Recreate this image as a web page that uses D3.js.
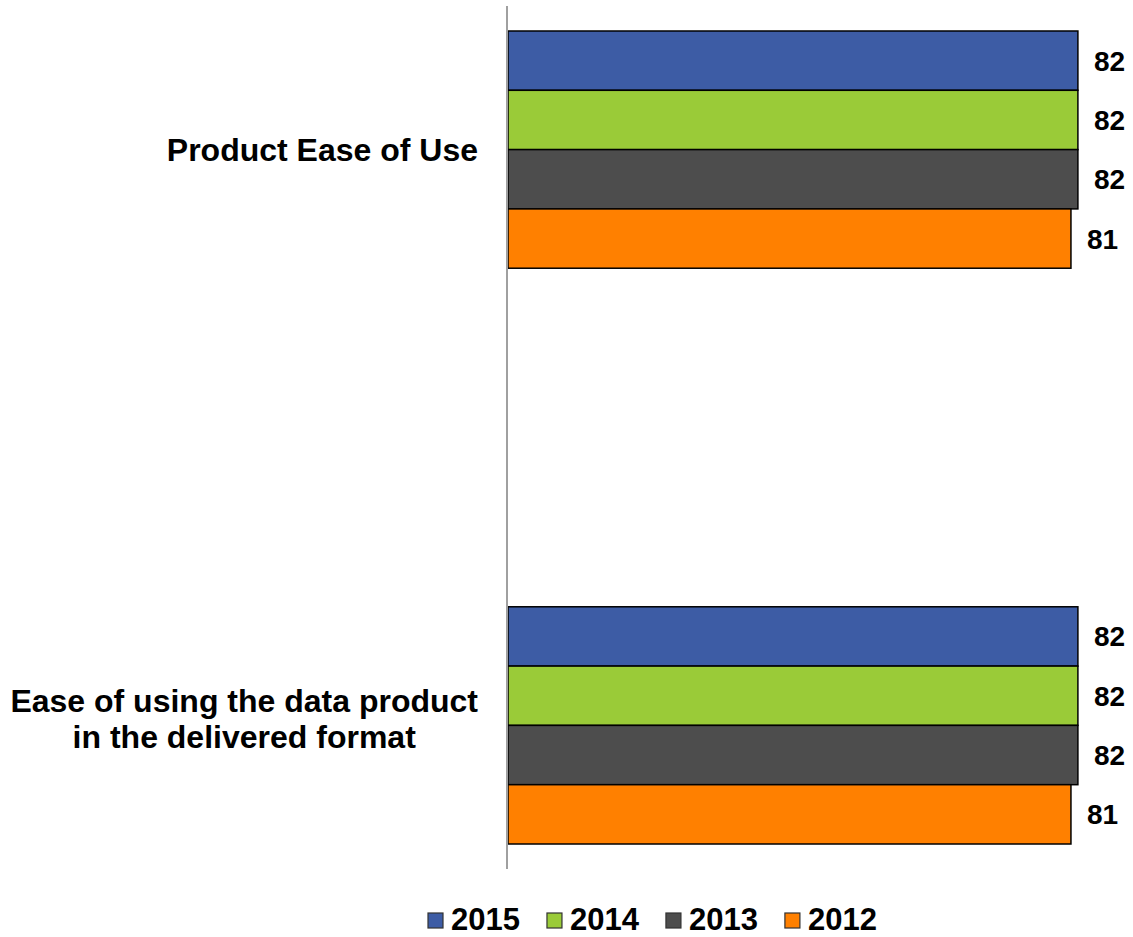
<!DOCTYPE html>
<html>
<head>
<meta charset="utf-8">
<script src="https://cdn.jsdelivr.net/npm/d3@7"></script>
<style>
  html, body { margin: 0; padding: 0; background: #fff; }
  svg { display: block; font-family: Arial, "Liberation Sans", sans-serif; }
</style>
</head>
<body>
<svg id="chart" width="1133" height="937"></svg>
<script>
// Satisfaction scores by year, two survey items
const categories = [
  ["Product Ease of Use"],
  ["Ease of using the data product", "in the delivered format"]
];
const years = ["2015", "2014", "2013", "2012"];
const values2015 = [82, 82];
const values2014 = [82, 82];
const values2013 = [82, 82];
const values2012 = [81, 81];
const colors = ["#3D5CA5", "#9ACB38", "#4D4D4D", "#FF8000"];

const seriesValues = [values2015, values2014, values2013, values2012];

const svg = d3.select("#chart");

const x = d3.scaleLinear().domain([0, 100]).range([508, 1203]);
const y0 = d3.scaleBand()
  .domain(d3.range(categories.length))
  .range([31, 844])
  .paddingInner(0.588)
  .paddingOuter(0);
const y1 = d3.scaleBand()
  .domain(years)
  .range([0, y0.bandwidth()]);

const groups = svg.selectAll("g.cat")
  .data(categories)
  .join("g")
  .attr("class", "cat")
  .attr("transform", (d, i) => `translate(0,${y0(i)})`);

// Bars with value labels
groups.each(function(cat, ci) {
  const g = d3.select(this);
  years.forEach((yr, si) => {
    const v = seriesValues[si][ci];
    g.append("rect")
      .attr("x", x(0))
      .attr("y", y1(yr))
      .attr("width", x(v) - x(0))
      .attr("height", y1.bandwidth())
      .attr("fill", colors[si])
      .attr("stroke", "#000")
      .attr("stroke-width", 1.5);
    g.append("text")
      .attr("x", x(v) + 16)
      .attr("y", y1(yr) + y1.bandwidth() / 2)
      .attr("dy", "0.36em")
      .attr("font-size", 28)
      .attr("font-weight", "bold")
      .attr("fill", "#000")
      .text(v);
  });
});

// Vertical category axis line
svg.append("line")
  .attr("x1", 507).attr("x2", 507)
  .attr("y1", 6).attr("y2", 869)
  .attr("stroke", "#a0a0a0")
  .attr("stroke-width", 2);

// Category labels, right-aligned block with centred lines
const labelRight = 478;
const lineH = 36;
groups.each(function(lines, ci) {
  const g = d3.select(this);
  const cy = y0.bandwidth() / 2;
  const t = g.append("text")
    .attr("font-size", 32)
    .attr("font-weight", "bold")
    .attr("fill", "#000")
    .attr("text-anchor", "middle");
  lines.forEach((ln, li) => {
    t.append("tspan").attr("data-i", li).text(ln);
  });
  const widths = [];
  t.selectAll("tspan").each(function() { widths.push(this.getComputedTextLength()); });
  const maxW = d3.max(widths);
  const startBase = cy + 11 - (lines.length - 1) * lineH / 2 - (lines.length > 1 ? 6 : 0);
  t.selectAll("tspan")
    .attr("x", labelRight - maxW / 2)
    .attr("y", (d, i) => startBase + i * lineH);
});

// Legend
const legend = svg.append("g").attr("transform", "translate(428,913)");
let lx = 0;
years.forEach((yr, i) => {
  const item = legend.append("g").attr("transform", `translate(${lx},0)`);
  item.append("rect")
    .attr("x", 0).attr("y", 0)
    .attr("width", 15).attr("height", 15)
    .attr("fill", colors[i])
    .attr("stroke", "#333")
    .attr("stroke-width", 1.2);
  const txt = item.append("text")
    .attr("x", 23)
    .attr("y", 17)
    .attr("font-size", 31)
    .attr("font-weight", "bold")
    .attr("fill", "#000")
    .text(yr);
  lx += 23 + txt.node().getComputedTextLength() + 27;
});
</script>
</body>
</html>
